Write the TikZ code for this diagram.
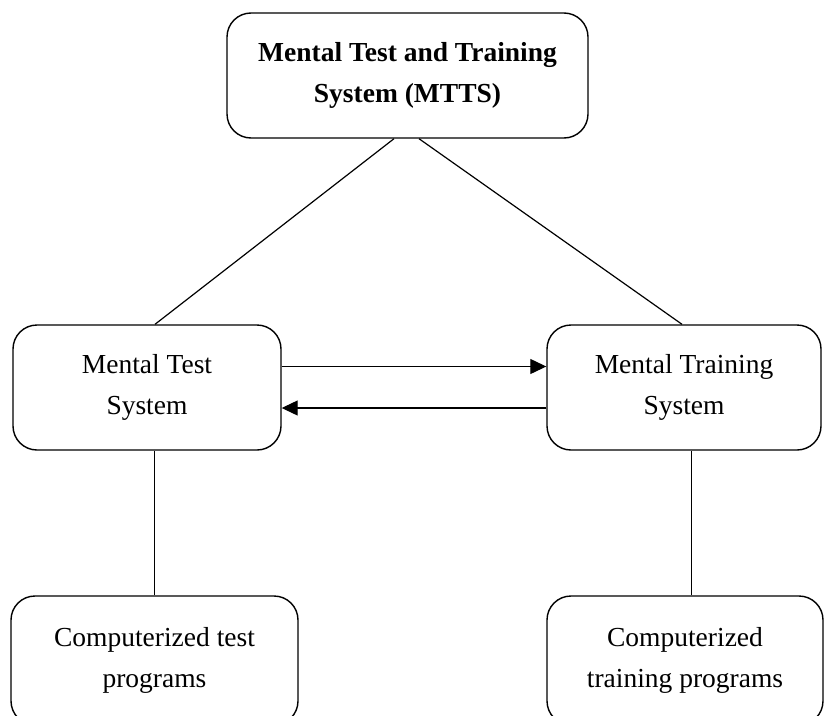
\documentclass[tikz,border=0pt]{standalone}
\usepackage{fontspec}
\setmainfont{Liberation Serif}
\usetikzlibrary{arrows.meta}
\begin{document}
\begin{tikzpicture}[x=1pt,y=1pt,
  box/.style={draw, line width=1.4pt, rounded corners=24pt, align=center,
    inner sep=0pt, font=\fontsize{27.5}{41}\selectfont},
  link/.style={line width=1.2pt},
  flow/.style={line width=1.2pt, -{Triangle[length=16pt,width=15pt]}}]
\useasboundingbox (0,0) rectangle (824,-715);
\clip (0,0) rectangle (824,-715);

% system overview
\node[box, minimum width=361pt, minimum height=125pt] (mtts) at (407.5,-75.5)
  {\bfseries Mental Test and Training\\ \bfseries System (MTTS)};

% the two subsystems
\node[box, minimum width=268pt, minimum height=125pt] (test) at (147,-387.5)
  {Mental Test\\ System};
\node[box, minimum width=274pt, minimum height=125pt] (train) at (684,-387.5)
  {Mental Training\\ System};

% program modules
\node[box, minimum width=287pt, minimum height=129pt] (tprog) at (154.5,-660.5)
  {Computerized test\\ programs};
\node[box, minimum width=276pt, minimum height=129pt] (trprog) at (685,-660.5)
  {Computerized\\ training programs};

% hierarchy links
\draw[link] ([xshift=-13.5pt]mtts.south) -- ([xshift=8pt]test.north);
\draw[link] ([xshift=11.5pt]mtts.south) -- ([xshift=-2pt]train.north);
\draw[link] (tprog.north) -- (tprog.north |- test.south);
\draw[link] ([xshift=6.5pt]trprog.north) -- ([xshift=6.5pt]trprog.north |- train.south);

% data exchange between subsystems
\draw[flow] ([yshift=21pt]test.east) -- ([yshift=21pt]test.east -| train.west);
\draw[flow] ([yshift=-20.5pt]train.west) -- ([yshift=-20.5pt]train.west -| test.east);
\end{tikzpicture}
\end{document}
